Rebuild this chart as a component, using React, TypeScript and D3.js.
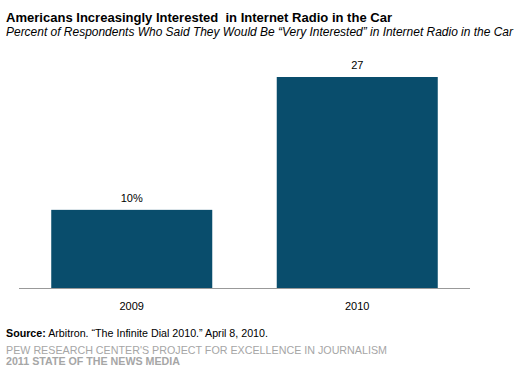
import React from "react";
import * as d3 from "d3";

const categories = ["2009", "2010"];
const values = [10, 27];
const valueLabels = ["10%", "27"];

const title = "Americans Increasingly Interested  in Internet Radio in the Car";
const subtitle = "Percent of Respondents Who Said They Would Be \u201cVery Interested\u201d in Internet Radio in the Car";

export default function App() {
  const W = 519, H = 376;
  const left = 19, right = 470, baseY = 288;
  const x = d3.scaleBand<string>().domain(categories).range([left, right]).paddingInner(0.286).paddingOuter(0.143);
  const y = d3.scaleLinear().domain([0, 27]).range([baseY, 77]);
  const font = "'Liberation Sans', Arial, sans-serif";
  return (
    <svg width={W} height={H} style={{ position: "absolute", left: 0, top: 0, background: "#fff" }} fontFamily={font}>
      <rect x={0} y={0} width={W} height={H} fill="#fff" />
      <text x={6} y={22} fontSize={12.5} fontWeight="bold" fill="#000" textLength={386} lengthAdjust="spacingAndGlyphs" style={{ whiteSpace: "pre" }}>{title}</text>
      <text x={6} y={36} fontSize={12} fontStyle="italic" fill="#000" textLength={507} lengthAdjust="spacingAndGlyphs">{subtitle}</text>
      {categories.map((c, i) => (
        <g key={c}>
          <rect x={x(c)} y={y(values[i])} width={x.bandwidth()} height={baseY - y(values[i])} fill="#094d6c" />
          <text x={(x(c) as number) + x.bandwidth() / 2} y={y(values[i]) - 8} fontSize={11} textAnchor="middle" fill="#000">{valueLabels[i]}</text>
          <text x={(x(c) as number) + x.bandwidth() / 2} y={310} fontSize={11} textAnchor="middle" fill="#000">{c}</text>
        </g>
      ))}
      <line x1={left} x2={right} y1={baseY + 0.5} y2={baseY + 0.5} stroke="#999" strokeWidth={1} />
      <text x={6} y={337} fontSize={11} fill="#000" textLength={262} lengthAdjust="spacingAndGlyphs"><tspan fontWeight="bold">Source:</tspan> Arbitron. {"\u201cThe Infinite Dial 2010.\u201d"} April 8, 2010.</text>
      <text x={6} y={353.5} fontSize={10.5} fill="#a6a6a6" textLength={381} lengthAdjust="spacingAndGlyphs">PEW RESEARCH CENTER'S PROJECT FOR EXCELLENCE IN JOURNALISM</text>
      <text x={6} y={364.5} fontSize={10.5} fontWeight="bold" fill="#a6a6a6" textLength={174} lengthAdjust="spacingAndGlyphs">2011 STATE OF THE NEWS MEDIA</text>
    </svg>
  );
}
